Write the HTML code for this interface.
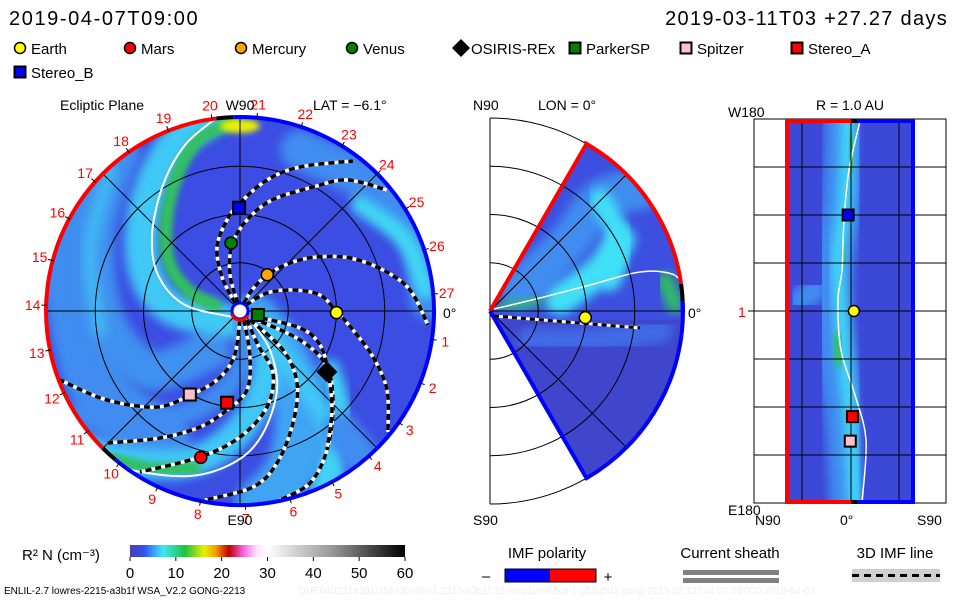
<!DOCTYPE html>
<html><head><meta charset="utf-8"><style>
html,body{margin:0;padding:0;background:#fff;}
body{width:960px;height:600px;overflow:hidden;position:relative;font-family:"Liberation Sans",sans-serif;}
svg text{font-family:"Liberation Sans",sans-serif;}
</style></head><body>
<svg id="s" width="960" height="600" viewBox="0 0 960 600" xmlns="http://www.w3.org/2000/svg">
<defs>
 <clipPath id="disk"><circle cx="240" cy="311" r="193"/></clipPath>
 <clipPath id="wedge"><path d="M490,311 L586.5,143.9 A193,193 0 0 1 586.5,478.1 Z"/></clipPath>
 <clipPath id="rect"><rect x="785" y="121" width="130" height="381"/></clipPath>
 <filter id="bl" x="-50%" y="-50%" width="200%" height="200%"><feGaussianBlur stdDeviation="5"/></filter>
 <filter id="bl2" x="-50%" y="-50%" width="200%" height="200%"><feGaussianBlur stdDeviation="3"/></filter>
 <linearGradient id="cbar" x1="0" x2="1" y1="0" y2="0">
  <stop offset="0" stop-color="#4a40b0"/><stop offset="0.05" stop-color="#3050f0"/>
  <stop offset="0.12" stop-color="#40e8f8"/><stop offset="0.2" stop-color="#20c040"/>
  <stop offset="0.27" stop-color="#e8f000"/><stop offset="0.31" stop-color="#f8a000"/>
  <stop offset="0.36" stop-color="#c00000"/><stop offset="0.41" stop-color="#f060e0"/>
  <stop offset="0.46" stop-color="#ffe0ff"/><stop offset="0.5" stop-color="#ffffff"/>
  <stop offset="0.75" stop-color="#909090"/><stop offset="1" stop-color="#000000"/>
 </linearGradient>
</defs>
<g id="g"></g>
</svg>
<script>
// ---------- data ----------
const planetNames = ["Earth","Mars","Mercury","Venus","OSIRIS-REx","ParkerSP","Spitzer","Stereo_A","Stereo_B"];
const planetColors = ["#ffff00","#ff0000","#ffa500","#008000","#000000","#008000","#ffc0cb","#ff0000","#0000ff"];
const planetShapes = ["circle","circle","circle","circle","diamond","square","square","square","square"];
const planetR = [1.0, 1.57, 0.47, 0.71, 1.10, 0.19, 1.01, 0.96, 1.07];      // AU
const planetLon = [-1, -105, 53, 97.5, -35, -12.5, -121, -98, 90.5];        // deg
const latPlanets = ["Earth"];
const latR = [0.99];
const latLat = [-4];
const rectPlanets = ["Stereo_B","Earth","Stereo_A","Spitzer"];
const rectLon = [90, 0, -99, -122];   // deg along vertical (W180 top)
const rectLat = [4, -4, -2, 1];       // deg along horizontal (N90 left)
const cbarTicks = [0,10,20,30,40,50,60];
const sectorLabels = [1,2,3,4,5,6,7,8,9,10,11,12,13,14,15,16,17,18,19,20,21,22,23,24,25,26,27];

const S = document.getElementById('g');
const NS = "http://www.w3.org/2000/svg";
function mk(tag, at, parent){const e=document.createElementNS(NS,tag);for(const k in at)e.setAttribute(k,at[k]);(parent||S).appendChild(e);return e;}
function txt(x,y,s,at,parent){const e=mk('text',Object.assign({x:x,y:y},at),parent);e.textContent=s;return e;}
function smooth(p){let d="M"+p[0][0]+","+p[0][1];for(let i=0;i<p.length-1;i++){const p0=p[Math.max(0,i-1)],p1=p[i],p2=p[i+1],p3=p[Math.min(p.length-1,i+2)];const c1=[p1[0]+(p2[0]-p0[0])/6,p1[1]+(p2[1]-p0[1])/6],c2=[p2[0]-(p3[0]-p1[0])/6,p2[1]-(p3[1]-p1[1])/6];d+=" C"+c1[0].toFixed(1)+","+c1[1].toFixed(1)+" "+c2[0].toFixed(1)+","+c2[1].toFixed(1)+" "+p2[0]+","+p2[1];}return d;}

const CX=240, CY=311, RPX=96.5;
const px = (r,a)=>[CX+r*RPX*Math.cos(a*Math.PI/180), CY-r*RPX*Math.sin(a*Math.PI/180)];

function marker(shape,color,x,y,sz,parent){
  let e;
  if(shape==="circle") e=mk('circle',{cx:x,cy:y,r:sz/2,fill:color,stroke:'#000','stroke-width':1.5},parent);
  else if(shape==="square") e=mk('rect',{x:x-sz/2,y:y-sz/2,width:sz,height:sz,fill:color,stroke:'#000','stroke-width':2},parent);
  else e=mk('path',{d:`M${x},${y-sz*0.75} L${x+sz*0.75},${y} L${x},${y+sz*0.75} L${x-sz*0.75},${y}Z`,fill:color},parent);
  return e;
}

// ---------- header ----------
let t=txt(9,25,"2019-04-07T09:00",{'font-size':20,'letter-spacing':'1.6',fill:'#000'});


t=txt(948,25,"2019-03-11T03 +27.27 days",{'font-size':20,'letter-spacing':'1.3','text-anchor':'end',fill:'#000'});


const legX=[20,130,241,352,461,575,686,797,20];
const legY=[48,48,48,48,48,48,48,48,72];
planetNames.forEach((n,i)=>{
  const g=mk('g',{});
  
  
  marker(planetShapes[i],planetColors[i],legX[i],legY[i],planetShapes[i]==="diamond"?12:11,g);
  txt(legX[i]+(planetShapes[i]==="diamond"?10:11),legY[i]+6,n,{'font-size':15,fill:'#000'},g);
});

function arcPath(cx,cy,r,a1,a2){const p1=[cx+r*Math.cos(a1*Math.PI/180),cy-r*Math.sin(a1*Math.PI/180)],p2=[cx+r*Math.cos(a2*Math.PI/180),cy-r*Math.sin(a2*Math.PI/180)];const large=Math.abs(a2-a1)>180?1:0;const sweep=a2>a1?0:1;return `M${p1[0]},${p1[1]} A${r},${r} 0 ${large} ${sweep} ${p2[0]},${p2[1]}`;}

// ---------- ecliptic disk ----------
const ecl=mk('g',{});


const dg=mk('g',{'clip-path':'url(#disk)'},ecl);
mk('circle',{cx:CX,cy:CY,r:193,fill:'#3b4de2'},dg);
const bands=[
 [[[60,200],[75,300],[100,390],[160,440]],'#3f8cf0',60,'bl'],
 [[[120,150],[95,230],[105,320],[150,370],[210,350]],'#3f90f0',40,'bl'],
 [[[110,170],[90,250],[100,330]],'#40b8f4',14,'bl'],
 [[[210,118],[170,150],[145,210],[145,270],[172,308],[230,322]],'#40c8f6',34,'bl'],
 [[[235,122],[198,140],[176,178],[166,225],[170,265],[190,292],[215,305]],'#30c060',13,'bl2'],
 [[[300,150],[370,185],[420,240],[430,300]],'#3f8cf0',40,'bl'],
 [[[360,205],[405,240],[425,290]],'#40d8f4',18,'bl'],
 [[[255,320],[285,360],[300,410],[290,470],[260,505]],'#40a4f4',50,'bl'],
 [[[265,330],[300,380],[330,430],[335,500]],'#40c8f6',20,'bl'],
 [[[330,370],[340,420],[320,490]],'#40d4f6',20,'bl'],
 [[[260,330],[265,380],[240,430],[190,462],[120,460],[70,440]],'#40c8f6',30,'bl'],
 [[[195,468],[150,468],[110,458]],'#30c060',12,'bl2'],
 [[[250,330],[240,370],[205,405],[150,420],[80,415]],'#3f8cf0',22,'bl'],
 [[[340,430],[370,470],[380,500]],'#3f8cf0',36,'bl']
];
bands.forEach(b=>mk('path',{d:smooth(b[0]),fill:'none',stroke:b[1],'stroke-width':b[2],'stroke-linecap':'round',filter:'url(#'+b[3]+')'},dg));
mk('ellipse',{cx:240,cy:126,rx:20,ry:7,fill:'#e8f000',filter:'url(#bl2)'},dg);
[0.5,1,1.5].forEach(r=>mk('circle',{cx:CX,cy:CY,r:r*RPX,fill:'none',stroke:'#000','stroke-width':1},dg));
[0,45,90,135].forEach(a=>{const p1=px(2.1,a),p2=px(2.1,a+180);mk('line',{x1:p1[0],y1:p1[1],x2:p2[0],y2:p2[1],stroke:'#000','stroke-width':1},dg);});
const sheaths=[
 [[215,119],[185,145],[163,185],[152,235],[158,275],[185,305],[233,317]],
 [[252,322],[270,350],[277,390],[262,435],[235,462],[190,476],[130,470],[100,458]]
];
sheaths.forEach(p=>mk('path',{d:smooth(p),fill:'none',stroke:'#fff','stroke-width':2},dg));
const fieldLines=[
 [[244,303],[252,290],[267,275],[290,263],[317,257],[350,258],[383,270],[410,290],[428,325]],
 [[246,305],[267,293],[293,290],[320,295],[337,312],[353,330],[373,357],[387,390],[388,432]],
 [[235,303],[222,277],[217,247],[227,220],[240,203],[267,180],[300,167],[353,161]],
 [[238,303],[230,275],[232,245],[247,220],[272,200],[313,187],[347,180],[387,190]],
 [[240,320],[234,357],[217,380],[190,395],[157,407],[107,400],[60,380]],
 [[244,320],[250,357],[247,390],[227,410],[200,427],[160,438],[107,443]],
 [[247,320],[258,345],[273,373],[267,407],[240,437],[200,457],[140,472]],
 [[250,320],[283,350],[297,383],[293,423],[277,463],[253,487],[205,500]],
 [[252,318],[300,340],[327,367],[333,407],[327,450],[310,483],[280,500]],
 [[252,316],[300,328],[320,345],[328,372],[332,410],[327,450]]
];
fieldLines.forEach(p=>{
  mk('path',{d:smooth(p),fill:'none',stroke:'#fff','stroke-width':3.5},dg);
  mk('path',{d:smooth(p),fill:'none',stroke:'#000','stroke-width':3.5,'stroke-dasharray':'6,4'},dg);
});
mk('path',{d:arcPath(CX,CY,194,97,225),fill:'none',stroke:'#ff0000','stroke-width':4},ecl);
mk('path',{d:arcPath(CX,CY,194,225,230),fill:'none',stroke:'#000','stroke-width':4},ecl);
mk('path',{d:arcPath(CX,CY,194,-130,92),fill:'none',stroke:'#0000ff','stroke-width':4},ecl);
mk('path',{d:arcPath(CX,CY,194,92,97),fill:'none',stroke:'#000','stroke-width':4},ecl);
mk('circle',{cx:CX,cy:CY,r:8,fill:'#fff',stroke:'#0000ff','stroke-width':3},ecl);
mk('path',{d:arcPath(CX,CY,9,200,330),fill:'none',stroke:'#ff0000','stroke-width':3},ecl);
sectorLabels.forEach(k=>{
  const a=5+(27-k)*13.33; const p=px(2.15,a); const tk1=px(2.0,a),tk2=px(2.06,a);
  mk('line',{x1:tk1[0],y1:tk1[1],x2:tk2[0],y2:tk2[1],stroke:'#000','stroke-width':1},ecl);
  const e=txt(p[0],p[1]+5,String(k),{'font-size':14,fill:'#ff0000','text-anchor':'middle'},ecl);
  
  
});
txt(60,110,"Ecliptic Plane",{'font-size':14,fill:'#000'},ecl);
txt(240,110,"W90",{'font-size':14,fill:'#000','text-anchor':'middle'},ecl);
txt(313,110,"LAT = −6.1°",{'font-size':14,fill:'#000'},ecl);
txt(240,525,"E90",{'font-size':14,fill:'#000','text-anchor':'middle'},ecl);
txt(443,318,"0°",{'font-size':14,fill:'#000'},ecl);
planetNames.forEach((n,i)=>{
  const p=px(planetR[i],planetLon[i]);
  const m=marker(planetShapes[i],planetColors[i],p[0],p[1],planetShapes[i]==="diamond"?14:12,ecl);
  
  
});

// ---------- meridional panel ----------
const MX=490, MY=311;
const mer=mk('g',{});


const wg=mk('g',{'clip-path':'url(#wedge)'},mer);
mk('rect',{x:490,y:110,width:200,height:400,fill:'#3c4fe0'},wg);
mk('rect',{x:490,y:320,width:200,height:200,fill:'#3f46cc'},wg);
[[[[520,290],[570,240],[600,200],[640,190]],'#3f8cf0',40],
 [[[560,300],[600,270],[620,240]],'#40e0f6',30],
 [[[600,200],[620,240],[610,280]],'#40e0f6',22],
 [[[665,280],[675,305]],'#2ec060',16],
 [[[500,308],[540,300]],'#2ec060',8],
 [[[530,340],[600,340],[660,330]],'#3f6ae8',25]
].forEach(b=>mk('path',{d:smooth(b[0]),fill:'none',stroke:b[1],'stroke-width':b[2],'stroke-linecap':'round',filter:'url(#bl)'},wg));
[0.5,1,1.5,2].forEach(r=>mk('path',{d:arcPath(MX,MY,r*RPX,90,-90),fill:'none',stroke:'#000','stroke-width':1},mer));
mk('line',{x1:490,y1:118,x2:490,y2:504,stroke:'#000','stroke-width':1},mer);
[0,45,-45].forEach(a=>{const p2=[MX+193*Math.cos(a*Math.PI/180),MY-193*Math.sin(a*Math.PI/180)];mk('line',{x1:MX,y1:MY,x2:p2[0],y2:p2[1],stroke:'#000','stroke-width':1},wg);});
mk('path',{d:smooth([[494,309],[540,298],[590,285],[640,272],[672,274],[683,285]]),fill:'none',stroke:'#fff','stroke-width':1.5},wg);
mk('path',{d:`M${MX},${MY} L586.5,143.9 `+arcPath(MX,MY,193,60,8).replace('M','L'),fill:'none',stroke:'#ff0000','stroke-width':4},mer);
mk('path',{d:arcPath(MX,MY,193,3,-60)+` L${MX},${MY}`,fill:'none',stroke:'#0000ff','stroke-width':4},mer);
mk('path',{d:arcPath(MX,MY,193,8,3),fill:'none',stroke:'#000','stroke-width':4},mer);
const ep1=[MX+4,MY+5],ep2=[MX+150,MY+17];
mk('line',{x1:ep1[0],y1:ep1[1],x2:ep2[0],y2:ep2[1],stroke:'#fff','stroke-width':3},mer);
mk('line',{x1:ep1[0],y1:ep1[1],x2:ep2[0],y2:ep2[1],stroke:'#000','stroke-width':3,'stroke-dasharray':'5,4'},mer);
latPlanets.forEach((n,i)=>{
  const a=latLat[i]*Math.PI/180;
  const m=marker("circle","#ffff00",MX+latR[i]*RPX*Math.cos(a),MY-latR[i]*RPX*Math.sin(a),12,mer);
  
  
});
txt(473,110,"N90",{'font-size':14,fill:'#000'},mer);
txt(538,110,"LON = 0°",{'font-size':14,fill:'#000'},mer);
txt(473,525,"S90",{'font-size':14,fill:'#000'},mer);
txt(688,318,"0°",{'font-size':14,fill:'#000'},mer);

// ---------- R = 1 AU panel ----------
const rp=mk('g',{});


const RX0=754,RX1=946,RY0=119,RY1=503;
const rg=mk('g',{'clip-path':'url(#rect)'},rp);
mk('rect',{x:785,y:121,width:130,height:381,fill:'#3c48d8'},rg);
[[[[845,110],[842,200],[832,280],[835,340],[845,420],[850,510]],'#3f8cf0',40],
 [[[848,110],[845,200],[838,260],[842,330],[850,420],[855,510]],'#40d8f6',14],
 [[[850,140],[852,165]],'#2ec060',14],
 [[[843,250],[845,262]],'#2ec060',10],
 [[[836,340],[840,360]],'#2ec060',14],
 [[[800,300],[815,290]],'#3f8cf0',24]
].forEach(b=>mk('path',{d:smooth(b[0]),fill:'none',stroke:b[1],'stroke-width':b[2],'stroke-linecap':'round',filter:'url(#bl)'},rg));
mk('path',{d:smooth([[860,121],[849,170],[844,220],[842,270],[838,300],[841,350],[855,395],[866,440],[862,502]]),fill:'none',stroke:'#fff','stroke-width':1.5},rg);
mk('rect',{x:RX0,y:RY0,width:RX1-RX0,height:RY1-RY0,fill:'none',stroke:'#000','stroke-width':1},rp);
for(let i=1;i<8;i++){const y=RY0+i*(RY1-RY0)/8;mk('line',{x1:RX0-(i===4?6:0),y1:y,x2:RX1,y2:y,stroke:'#000','stroke-width':1},rp);}
[802,851,899].forEach(x=>mk('line',{x1:x,y1:121,x2:x,y2:502,stroke:'#000','stroke-width':1},rp));
mk('path',{d:'M852,121 L787,121 L787,502 L852,502',fill:'none',stroke:'#ff0000','stroke-width':4},rp);
mk('path',{d:'M857,121 L913,121 L913,502 L857,502',fill:'none',stroke:'#0000ff','stroke-width':4},rp);
mk('line',{x1:851,y1:121,x2:857,y2:121,stroke:'#000','stroke-width':4},rp);
mk('line',{x1:851,y1:502,x2:857,y2:502,stroke:'#000','stroke-width':4},rp);
const lonY=l=>RY0+(180-l)/360*(RY1-RY0);
const latX=l=>851+(-l)/180*130;
rectPlanets.forEach((n,i)=>{
  const ix=planetNames.indexOf(n);
  const m=marker(planetShapes[ix],planetColors[ix],latX(rectLat[i]),lonY(rectLon[i]),11,rp);
  
  
});
txt(850,110,"R = 1.0 AU",{'font-size':14,fill:'#000','text-anchor':'middle'},rp);
txt(728,117,"W180",{'font-size':14,fill:'#000'},rp);
txt(738,317,"1",{'font-size':14,fill:'#ff0000'},rp);
txt(728,515,"E180",{'font-size':14,fill:'#000'},rp);
txt(755,525,"N90",{'font-size':14,fill:'#000'},rp);
txt(840,525,"0°",{'font-size':14,fill:'#000'},rp);
txt(917,525,"S90",{'font-size':14,fill:'#000'},rp);

// ---------- colorbar ----------
const cb=mk('g',{});


const CB0=130,CB1=405,vmax=60;
const cbx=v=>CB0+v/vmax*(CB1-CB0);
mk('rect',{x:CB0,y:545,width:CB1-CB0,height:12,fill:'url(#cbar)'},cb);
cbarTicks.forEach(v=>{mk('line',{x1:cbx(v),y1:557,x2:cbx(v),y2:561,stroke:'#000'},cb);txt(cbx(v),578,String(v),{'font-size':15,fill:'#000','text-anchor':'middle'},cb);});
txt(22,560,"R² N (cm⁻³)",{'font-size':15,fill:'#000'},cb);

const ip=mk('g',{});


txt(547,558,"IMF polarity",{'font-size':15,fill:'#000','text-anchor':'middle'},ip);
mk('rect',{x:505,y:569,width:45,height:13,fill:'#0000ff'},ip);
mk('rect',{x:550,y:569,width:46,height:13,fill:'#ff0000'},ip);
mk('rect',{x:505,y:569,width:91,height:13,fill:'none',stroke:'#000'},ip);
txt(486,581,"–",{'font-size':15,fill:'#000','text-anchor':'middle'},ip);
txt(608,582,"+",{'font-size':15,fill:'#000','text-anchor':'middle'},ip);
const cs=mk('g',{});


txt(730,558,"Current sheath",{'font-size':15,fill:'#000','text-anchor':'middle'},cs);
mk('rect',{x:683,y:570,width:96,height:5,fill:'#808080'},cs);
mk('rect',{x:683,y:578,width:96,height:5,fill:'#808080'},cs);
const il=mk('g',{});


txt(895,558,"3D IMF line",{'font-size':15,fill:'#000','text-anchor':'middle'},il);
mk('rect',{x:852,y:569,width:88,height:13,fill:'#d0d0d0'},il);
mk('line',{x1:852,y1:575.5,x2:940,y2:575.5,stroke:'#000','stroke-width':3,'stroke-dasharray':'7,5'},il);

t=txt(4,594,"ENLIL-2.7 lowres-2215-a3b1f WSA_V2.2 GONG-2213",{'font-size':10,fill:'#000'});


t=txt(298,594,"QUE0402214101/256x30x90x1.2215-a3b1f.32-mcp1umn1cd-1.g53q5d2.gong-2019:02:12T04:07:00TC0    2019-04-02",{'font-size':10,fill:'#eeeeee'});


</script>
</body></html>
